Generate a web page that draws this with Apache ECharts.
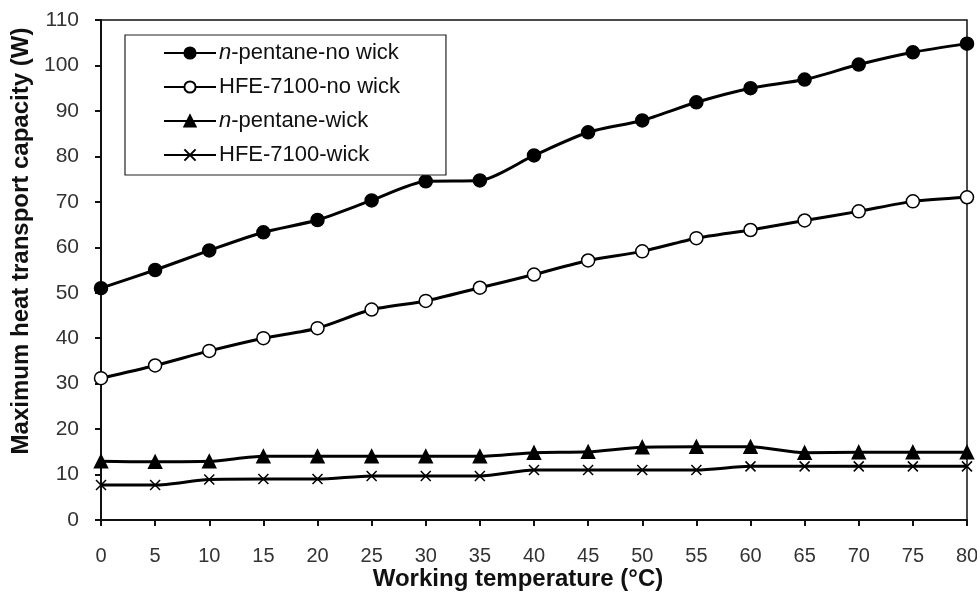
<!DOCTYPE html>
<html lang="en">
<head>
    <meta charset="UTF-8">
    <title>Heat transport capacity</title>
    <style>
        body{ margin:0; background:#fff; }
        .container{ width:977px; height:594px; }
    </style>
    <script src="https://cdn.jsdelivr.net/npm/echarts@6/dist/echarts.min.js"></script>
</head>
<body>
    <div class="container"></div>
    <script>
        // working temperature (°C)
        var temps = [0, 5, 10, 15, 20, 25, 30, 35, 40, 45, 50, 55, 60, 65, 70, 75, 80];
        // maximum heat transport capacity (W)
        var pentaneNoWick = [51, 55, 59.3, 63.3, 66, 70.3, 74.5, 74.7, 80.2, 85.3, 87.9, 91.9, 95, 96.9, 100.2, 102.9, 104.8];
        var hfeNoWick = [31.2, 34, 37.2, 40, 42.2, 46.3, 48.2, 51.1, 54, 57.1, 59.1, 62, 63.8, 65.9, 67.9, 70.1, 71];
        var pentaneWick = [12.9, 12.8, 12.9, 14, 14, 14, 14, 14, 14.8, 15, 16, 16.1, 16.1, 14.8, 14.9, 14.9, 14.9];
        var hfeWick = [7.7, 7.7, 8.9, 9, 9, 9.7, 9.7, 9.7, 11, 11, 11, 11, 11.8, 11.8, 11.8, 11.8, 11.8];

        function pairs(arr){
            return temps.map(function(t, i){ return [t, arr[i]]; });
        }

        var seriesDefs = [
            { name:'n-pentane-no wick', data:pentaneNoWick, symbol:'circle', fill:'#000', size:13 },
            { name:'HFE-7100-no wick', data:hfeNoWick, symbol:'circle', fill:'#fff', size:13 },
            { name:'n-pentane-wick', data:pentaneWick, symbol:'triangle', fill:'#000', size:13 },
            { name:'HFE-7100-wick', data:hfeWick, symbol:'path://M0,0L10,10M10,0L0,10', fill:'none', size:10 }
        ];

        var font = 'Liberation Sans, Arial';

        var main = document.getElementsByClassName('container')[0];
        var myChart = echarts.init(main);

        myChart.setOption({
            backgroundColor:'#fff',
            animation:false,
            grid:{
                left:101, right:10, top:20, bottom:74,
                outerBoundsMode:'none',
                show:true, borderColor:'#111', borderWidth:1.5
            },
            legend:{
                left:125, top:35,
                orient:'vertical',
                padding:[7, 46, 9, 38],
                itemWidth:52, itemHeight:14, itemGap:12,
                borderColor:'#222', borderWidth:1.2,
                backgroundColor:'#fff',
                textStyle:{
                    fontFamily:font, fontSize:22, lineHeight:22, color:'#111',
                    padding:[0,0,0,-2],
                    rich:{ i:{ fontStyle:'italic', fontFamily:font, fontSize:22, lineHeight:22, color:'#111' } }
                },
                formatter:function(name){
                    if(name.indexOf('n-') === 0) return '{i|n}' + name.slice(1);
                    return name;
                },
                data:seriesDefs.map(function(s){ return s.name; })
            },
            xAxis:{
                type:'value', min:0, max:80, interval:5,
                name:'Working temperature (°C)',
                nameLocation:'middle', nameGap:47, nameMoveOverlap:false,
                nameTextStyle:{ fontFamily:font, fontSize:24, fontWeight:'bold', color:'#111', padding:[0,32,0,0] },
                axisLine:{ lineStyle:{ color:'#111', width:2 } },
                axisTick:{ length:6, lineStyle:{ color:'#111', width:2 } },
                axisLabel:{ margin:26, fontFamily:font, fontSize:20, color:'#333', showMaxLabel:true },
                splitLine:{ show:false }
            },
            yAxis:{
                type:'value', min:0, max:110, interval:10,
                name:'Maximum heat transport capacity (W)',
                nameLocation:'middle', nameGap:64,
                nameTextStyle:{ fontFamily:font, fontSize:24, fontWeight:'bold', color:'#111', padding:[0,0,0,58] },
                axisLine:{ show:true, lineStyle:{ color:'#111', width:2 } },
                axisTick:{ show:true, length:6, lineStyle:{ color:'#111', width:2 } },
                axisLabel:{ margin:22, fontFamily:font, fontSize:21, color:'#333' },
                splitLine:{ show:false }
            },
            series:seriesDefs.map(function(s){
                return {
                    name:s.name,
                    type:'line',
                    data:pairs(s.data),
                    smooth:0.25,
                    symbol:s.symbol,
                    symbolSize:s.size,
                    showAllSymbol:true,
                    clip:false,
                    lineStyle:{ color:'#000', width:3 },
                    itemStyle:{ color:s.fill === 'none' ? 'rgba(0,0,0,0)' : s.fill, borderColor:'#000', borderWidth:1.5 }
                };
            })
        });
    </script>
</body>
</html>
